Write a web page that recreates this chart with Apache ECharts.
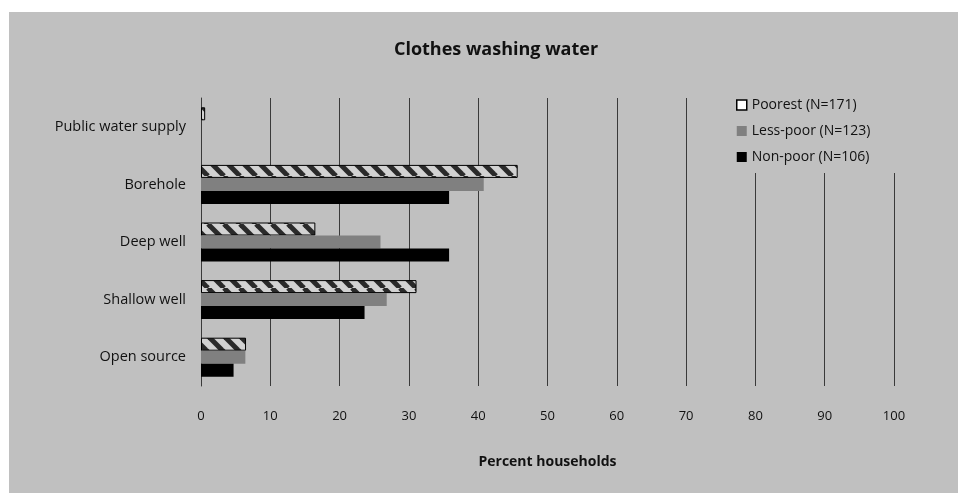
<!DOCTYPE html>
<html>
<head>
<meta charset="utf-8">
<script src="https://cdn.jsdelivr.net/npm/echarts@6/dist/echarts.min.js"></script>
<style>
html,body{margin:0;padding:0;background:#fff;}
#chart{width:959px;height:493px;}
</style>
</head>
<body>
<div id="chart"></div>
<script>
const categories = ['Public water supply', 'Borehole', 'Deep well', 'Shallow well', 'Open source'];
const seriesNames = ['Poorest (N=171)', 'Less-poor (N=123)', 'Non-poor (N=106)'];
const poorest = [0.6, 45.7, 16.5, 31.1, 6.5];
const lessPoor = [0, 40.8, 25.9, 26.8, 6.4];
const nonPoor = [0, 35.8, 35.8, 23.6, 4.7];
const xTicks = [0, 10, 20, 30, 40, 50, 60, 70, 80, 90, 100];

const FONT = '"Open Sans", "DejaVu Sans", sans-serif';

function makeHatch() {
  const s = 16;
  const c = document.createElement('canvas');
  c.width = s; c.height = s;
  const g = c.getContext('2d');
  g.fillStyle = '#d2d2d2';
  g.fillRect(0, 0, s, s);
  g.strokeStyle = '#2a2a2a';
  g.lineWidth = 5;
  for (let k = -1; k <= 1; k++) {
    g.beginPath();
    g.moveTo(k * s, 0);
    g.lineTo(k * s + s, s);
    g.stroke();
  }
  return { image: c, repeat: 'repeat' };
}

const chart = echarts.init(document.getElementById('chart'), null, { renderer: 'canvas' });
const option = {
  animation: false,
  backgroundColor: 'transparent',
  textStyle: { fontFamily: FONT },
  graphic: [
    { type: 'rect', silent: true, z: -10,
      shape: { x: 9, y: 12, width: 949, height: 481 },
      style: { fill: '#c0c0c0' } },
    { type: 'rect', silent: true, z: 50,
      shape: { x: 726, y: 92, width: 180, height: 81 },
      style: { fill: '#c0c0c0' } }
  ],
  title: {
    text: 'Clothes washing water',
    left: 491, top: 36, textAlign: 'center',
    textStyle: { fontFamily: FONT, fontSize: 18, fontWeight: 'bold', color: '#111' }
  },
  legend: {
    z: 60,
    orient: 'vertical',
    left: 736, top: 98,
    icon: 'rect',
    itemWidth: 10, itemHeight: 10, itemGap: 12,
    padding: 0,
    textStyle: { fontFamily: FONT, fontSize: 14, color: '#111' },
    data: seriesNames.map((n, i) => ({ name: n, itemStyle: i === 0 ? { color: '#fff', borderColor: '#000', borderWidth: 1.5 } : {} }))
  },
  grid: { left: 201, right: 65, top: 98, bottom: 107 },
  xAxis: {
    type: 'value', min: xTicks[0], max: xTicks[xTicks.length - 1], interval: 10,
    name: 'Percent households', nameLocation: 'middle', nameGap: 69,
    nameTextStyle: { fontFamily: FONT, fontSize: 14, fontWeight: 'bold', color: '#111' },
    axisLine: { show: false }, axisTick: { show: false },
    axisLabel: { margin: 24, fontSize: 13, color: '#111', fontFamily: FONT },
    splitLine: { show: true, lineStyle: { color: '#3a3a3a', width: 1 } }
  },
  yAxis: {
    type: 'category', data: categories, inverse: true,
    axisLine: { show: true, lineStyle: { color: '#3a3a3a', width: 1 } },
    axisTick: { show: false },
    axisLabel: { margin: 15, fontSize: 14.5, color: '#111', fontFamily: FONT }
  },
  series: [
    { name: seriesNames[0], type: 'bar', data: poorest, barWidth: 13, barGap: '0%',
      itemStyle: { color: makeHatch(), borderColor: '#000', borderWidth: 1 } },
    { name: seriesNames[1], type: 'bar', data: lessPoor, barWidth: 13, barGap: '0%',
      itemStyle: { color: '#808080' } },
    { name: seriesNames[2], type: 'bar', data: nonPoor, barWidth: 13, barGap: '0%',
      itemStyle: { color: '#000' } }
  ]
};
chart.setOption(option);
</script>
</body>
</html>
